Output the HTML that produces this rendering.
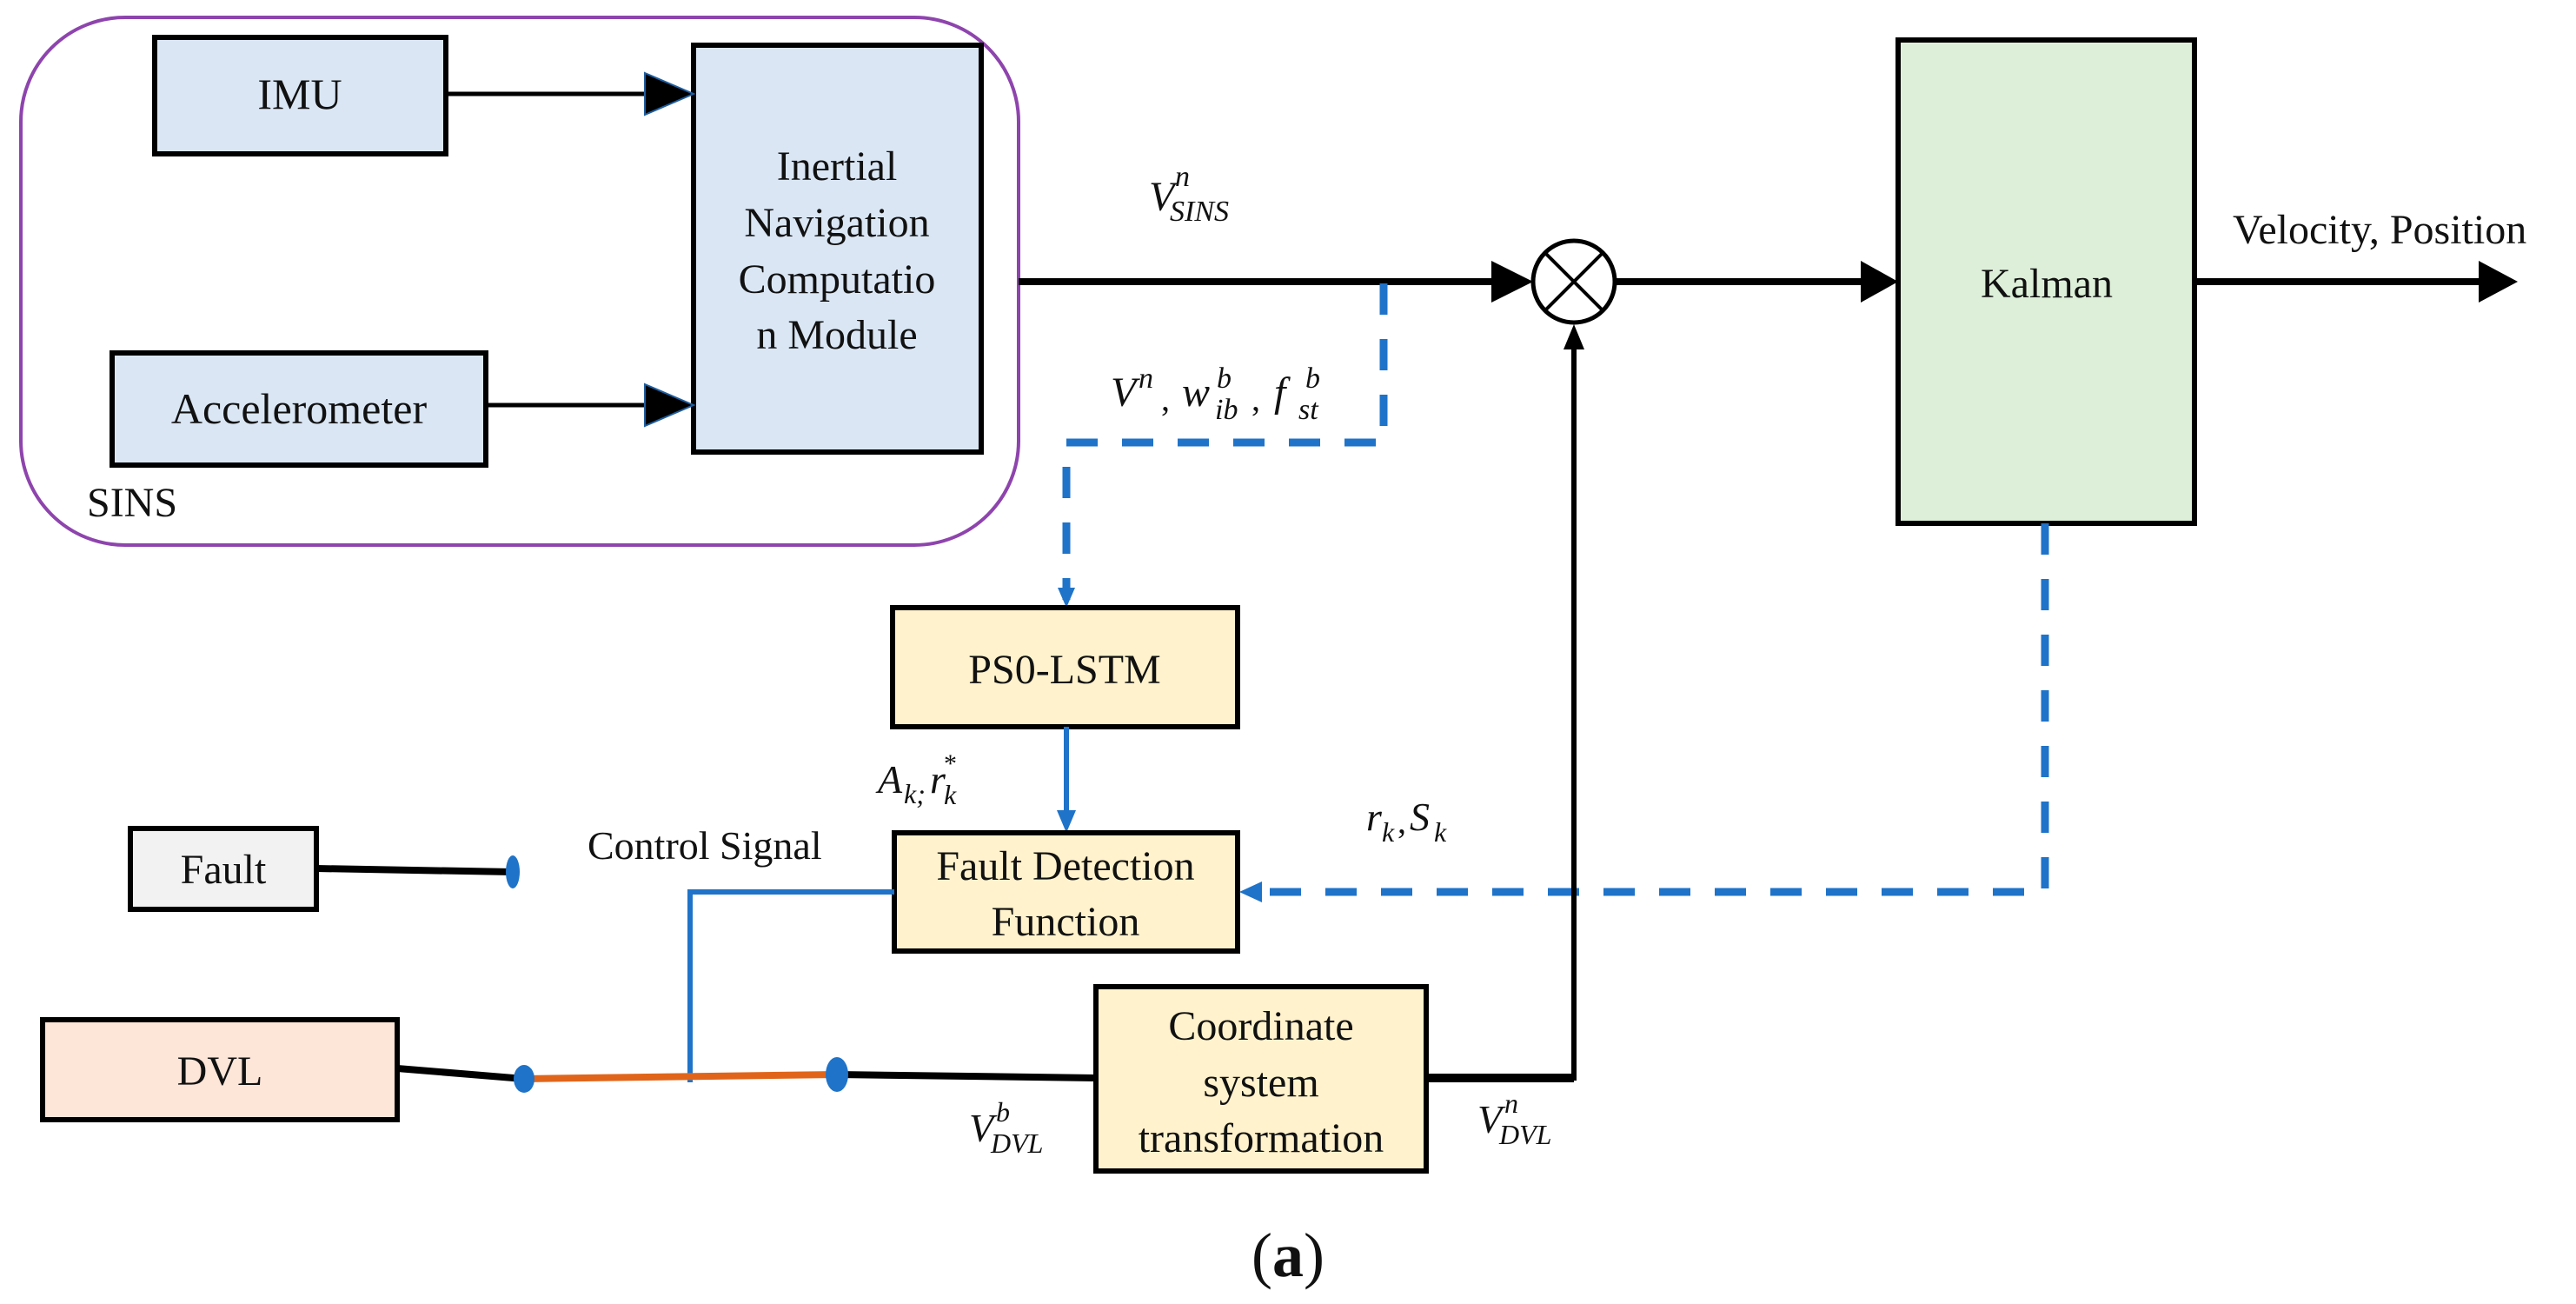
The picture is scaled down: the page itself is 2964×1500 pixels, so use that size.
<!DOCTYPE html>
<html><head><meta charset="utf-8"><style>
html,body{margin:0;padding:0;background:#fff}
svg{display:block}
text{font-family:"Liberation Serif",serif;fill:#111}
.m{font-style:italic}
</style></head><body>
<svg width="2964" height="1500" viewBox="0 0 2964 1500" xmlns="http://www.w3.org/2000/svg">
<defs>
<marker id="ab" markerWidth="10" markerHeight="10" refX="9" refY="5" orient="auto" markerUnits="userSpaceOnUse"><path d="M0,0 L10,5 L0,10z" fill="#1f73c8"/></marker>
</defs>
<!-- SINS group -->
<rect x="24" y="20" width="1148" height="607" rx="120" ry="120" fill="none" stroke="#8e44ad" stroke-width="4"/>
<text x="100" y="594" font-size="48">SINS</text>
<rect x="178" y="43" width="335" height="134" fill="#dae6f4" stroke="#000" stroke-width="6"/>
<text x="345" y="125" font-size="50" text-anchor="middle">IMU</text>
<rect x="129" y="406" width="430" height="129" fill="#dae6f4" stroke="#000" stroke-width="6"/>
<text x="344" y="487" font-size="50" text-anchor="middle">Accelerometer</text>
<rect x="798" y="52" width="331" height="468" fill="#dae6f4" stroke="#000" stroke-width="6"/>
<g font-size="48" text-anchor="middle">
<text x="963" y="207">Inertial</text>
<text x="963" y="272">Navigation</text>
<text x="963" y="337">Computatio</text>
<text x="963" y="401">n Module</text>
</g>
<line x1="513" y1="108" x2="745" y2="108" stroke="#000" stroke-width="5"/>
<path d="M742,84 L798,108 L742,132z" fill="#000" stroke="#1f5fa0" stroke-width="2"/>
<line x1="559" y1="466" x2="745" y2="466" stroke="#000" stroke-width="5"/>
<path d="M742,442 L798,466 L742,490z" fill="#000" stroke="#1f5fa0" stroke-width="2"/>
<!-- main line -->
<line x1="1172" y1="324" x2="1720" y2="324" stroke="#000" stroke-width="8"/>
<path d="M1716,300 L1764,324 L1716,348z" fill="#000"/>
<circle cx="1811" cy="324" r="47" fill="#fff" stroke="#000" stroke-width="5"/>
<line x1="1778" y1="291" x2="1844" y2="357" stroke="#000" stroke-width="4"/>
<line x1="1844" y1="291" x2="1778" y2="357" stroke="#000" stroke-width="4"/>
<line x1="1858" y1="324" x2="2145" y2="324" stroke="#000" stroke-width="8"/>
<path d="M2141,300 L2184,324 L2141,348z" fill="#000"/>
<rect x="2184" y="46" width="341" height="556" fill="#ddefd9" stroke="#000" stroke-width="6"/>
<text x="2355" y="342" font-size="48" text-anchor="middle">Kalman</text>
<line x1="2525" y1="324" x2="2856" y2="324" stroke="#000" stroke-width="8"/>
<path d="M2852,300 L2897,324 L2852,348z" fill="#000"/>
<text x="2569" y="280" font-size="48">Velocity, Position</text>
<!-- labels -->
<text x="1322" y="242" font-size="48" class="m">V</text>
<text x="1352" y="214" font-size="34" class="m">n</text>
<text x="1346" y="254" font-size="34" class="m">SINS</text>
<text x="1278" y="467" font-size="48" class="m">V</text>
<text x="1310" y="446" font-size="34" class="m">n</text>
<text x="1336" y="472" font-size="40">,</text>
<text x="1360" y="467" font-size="48" class="m">w</text>
<text x="1400" y="446" font-size="34" class="m">b</text>
<text x="1398" y="482" font-size="34" class="m">ib</text>
<text x="1440" y="472" font-size="40">,</text>
<text x="1466" y="467" font-size="48" class="m">f</text>
<text x="1502" y="446" font-size="34" class="m">b</text>
<text x="1494" y="482" font-size="34" class="m">st</text>
<!-- blue dashed from main line to PSO -->
<path d="M1592,326 L1592,509 L1227,509 L1227,690" fill="none" stroke="#1f73c8" stroke-width="9" stroke-dasharray="36,28"/>
<path d="M1217,676 L1237,676 L1227,699z" fill="#1f73c8"/>
<!-- PSO-LSTM -->
<rect x="1027" y="699" width="397" height="137" fill="#fff2cc" stroke="#000" stroke-width="6"/>
<text x="1225" y="786" font-size="48" text-anchor="middle">PS0-LSTM</text>
<line x1="1227" y1="836" x2="1227" y2="940" stroke="#1f73c8" stroke-width="6"/>
<path d="M1216,932 L1238,932 L1227,958z" fill="#1f73c8"/>
<text x="1010" y="912" font-size="46" class="m">A</text>
<text x="1040" y="924" font-size="32" class="m">k;</text>
<text x="1070" y="912" font-size="46" class="m">r</text>
<text x="1086" y="888" font-size="30">*</text>
<text x="1086" y="925" font-size="32" class="m">k</text>
<!-- FDF -->
<rect x="1029" y="958" width="395" height="136" fill="#fff2cc" stroke="#000" stroke-width="6"/>
<g font-size="48" text-anchor="middle">
<text x="1226" y="1012">Fault Detection</text>
<text x="1226" y="1076">Function</text>
</g>
<!-- Kalman dashed feedback -->
<path d="M2353,602 L2353,1026 L1450,1026" fill="none" stroke="#1f73c8" stroke-width="9" stroke-dasharray="36,28"/>
<path d="M1452,1014 L1452,1038 L1426,1026z" fill="#1f73c8"/>
<text x="1572" y="955" font-size="46" class="m">r</text>
<text x="1590" y="968" font-size="32" class="m">k</text>
<text x="1608" y="958" font-size="40">,</text>
<text x="1622" y="955" font-size="46" class="m">S</text>
<text x="1650" y="968" font-size="32" class="m">k</text>
<!-- Fault -->
<rect x="150" y="953" width="214" height="93" fill="#f2f2f2" stroke="#000" stroke-width="6"/>
<text x="257" y="1016" font-size="48" text-anchor="middle">Fault</text>
<line x1="364" y1="999" x2="590" y2="1003" stroke="#000" stroke-width="8"/>
<ellipse cx="590" cy="1003" rx="8" ry="19" fill="#1f73c8"/>
<text x="676" y="988" font-size="46">Control Signal</text>
<!-- control line -->
<path d="M1029,1026 L794,1026 L794,1245" fill="none" stroke="#1f73c8" stroke-width="6"/>
<!-- DVL -->
<rect x="49" y="1173" width="408" height="115" fill="#fde5d8" stroke="#000" stroke-width="6"/>
<text x="253" y="1248" font-size="48" text-anchor="middle">DVL</text>
<line x1="457" y1="1229" x2="603" y2="1241" stroke="#000" stroke-width="8"/>
<line x1="603" y1="1241" x2="963" y2="1236" stroke="#e0651a" stroke-width="8"/>
<ellipse cx="603" cy="1241" rx="12" ry="16" fill="#1f73c8"/>
<line x1="963" y1="1236" x2="1261" y2="1240" stroke="#000" stroke-width="8"/>
<ellipse cx="963" cy="1236" rx="13" ry="20" fill="#1f73c8"/>
<!-- Coord -->
<rect x="1261" y="1135" width="380" height="212" fill="#fff2cc" stroke="#000" stroke-width="6"/>
<g font-size="48" text-anchor="middle">
<text x="1451" y="1196">Coordinate</text>
<text x="1451" y="1261">system</text>
<text x="1451" y="1325">transformation</text>
</g>
<text x="1115" y="1313" font-size="46" class="m">V</text>
<text x="1146" y="1290" font-size="32" class="m">b</text>
<text x="1140" y="1326" font-size="32" class="m">DVL</text>
<text x="1700" y="1303" font-size="46" class="m">V</text>
<text x="1731" y="1280" font-size="32" class="m">n</text>
<text x="1725" y="1316" font-size="32" class="m">DVL</text>
<path d="M1641,1240 L1811,1240 L1811,395" fill="none" stroke="#000" stroke-width="6"/>
<path d="M1799,402 L1823,402 L1811,373z" fill="#000"/>
<line x1="1641" y1="1240" x2="1811" y2="1240" stroke="#000" stroke-width="10"/>
<!-- caption -->
<text x="1482" y="1468" font-size="72" text-anchor="middle">(<tspan font-weight="bold">a</tspan>)</text>
</svg>
</body></html>
